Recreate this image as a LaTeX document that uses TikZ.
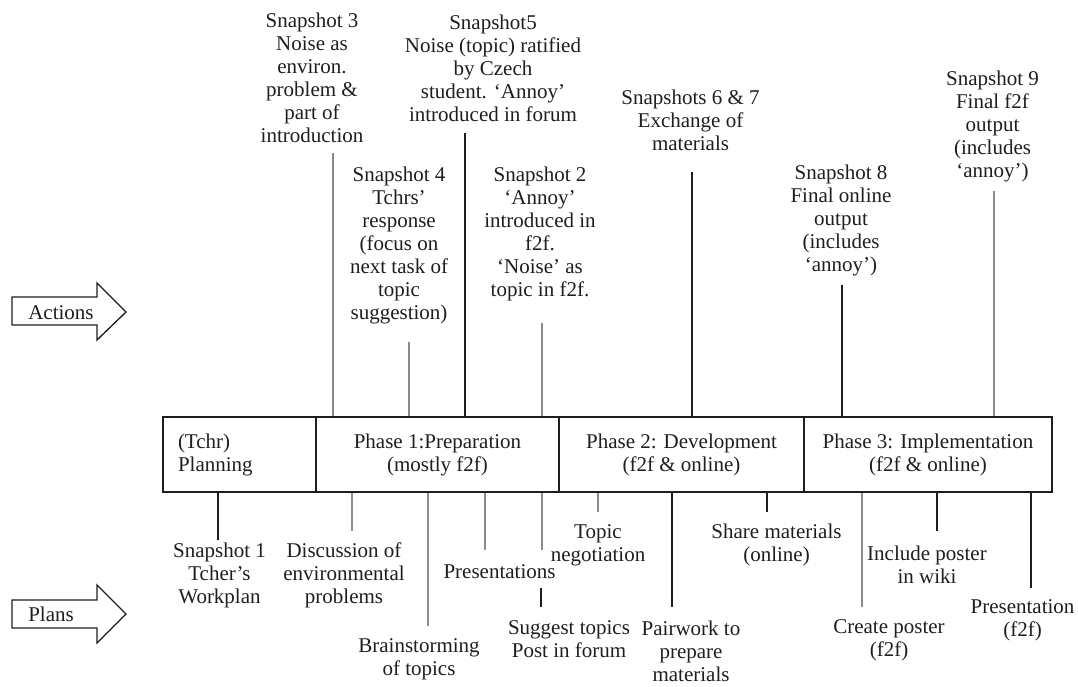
\documentclass[tikz,border=0pt]{standalone}
\usepackage{fontspec}
\setmainfont{Liberation Serif}
\definecolor{ink}{HTML}{1E1E1E}
\definecolor{lgray}{HTML}{8C8C8C}
\begin{document}
\begin{tikzpicture}[x=0.75pt,y=-0.75pt,
  every node/.style={font=\fontsize{15.75}{17.25}\selectfont, inner sep=0pt, text=ink},
  lbl/.style={align=center},
  phase/.style={draw=ink, line width=1.1pt, minimum height=56.25pt, inner sep=0pt, align=center},
  blk/.style={draw=ink, line width=1pt},
  gry/.style={draw=lgray, line width=1.5pt},
  bigarrow/.style={draw=ink, line width=1pt, line join=miter},
]
\useasboundingbox (0,0) rectangle (1078,686);

% side arrows
\draw[bigarrow] (12,297) -- (97,297) -- (97,283) -- (126,312) -- (97,340) -- (97,325) -- (12,325) -- cycle;
\node[anchor=west] (actions) at (28,313) {Actions};
\draw[bigarrow] (12,600) -- (97,600) -- (97,585) -- (126,614) -- (97,643) -- (97,628) -- (12,628) -- cycle;
\node[anchor=west] (plans) at (28,614) {Plans};

% phase boxes
\node[phase, align=left, text width=92.25pt, inner xsep=11.25pt] (plan) at (239.5,454.5) {(Tchr)\\Planning};
\node[phase, minimum width=182.25pt] (ph1) at (437.5,454.5) {Phase 1:Preparation\\(mostly f2f)};
\node[phase, minimum width=183.75pt] (ph2) at (681.5,454.5) {Phase 2: Development\\(f2f \& online)};
\node[phase, minimum width=186pt] (ph3) at (928,454.5) {Phase 3: Implementation\\(f2f \& online)};

% top labels (actions)
\node[lbl] (s3) at (312,77.5) {Snapshot 3\\Noise as\\environ.\\problem \&\\part of\\introduction};
\node[lbl] (s5) at (493,68.5) {Snapshot5\\Noise (topic) ratified\\by Czech\\student. ‘Annoy’\\introduced in forum};
\node[lbl] (s4) at (399,245) {Snapshot 4\\Tchrs’\\response\\(focus on\\next task of\\topic\\suggestion)};
\node[lbl] (s2) at (540,233.5) {Snapshot 2\\‘Annoy’\\introduced in\\f2f.\\‘Noise’ as\\topic in f2f.};
\node[lbl] (s67) at (690.5,120) {Snapshots 6 \& 7\\Exchange of\\materials};
\node[lbl] (s8) at (841,220) {Snapshot 8\\Final online\\output\\(includes\\‘annoy’)};
\node[lbl] (s9) at (992.5,126) {Snapshot 9\\Final f2f\\output\\(includes\\‘annoy’)};

% bottom labels (plans)
\node[lbl] (p1) at (219.5,575) {Snapshot 1\\Tcher’s\\Workplan};
\node[lbl] (disc) at (344,575) {Discussion of\\environmental\\problems};
\node[lbl] (brain) at (419,659) {Brainstorming\\of topics};
\node[lbl] (pres) at (499.5,572) {Presentations};
\node[lbl] (sugg) at (569,639.5) {Suggest topics\\Post in forum};
\node[lbl] (topic) at (598,545) {Topic\\negotiation};
\node[lbl] (pair) at (691,651.5) {Pairwork to\\prepare\\materials};
\node[lbl] (share) at (776.5,545) {Share materials\\(online)};
\node[lbl] (incl) at (927,564.5) {Include poster\\in wiki};
\node[lbl] (create) at (889,640.5) {Create poster\\(f2f)};
\node[lbl] (presf) at (1022.5,620.5) {Presentation\\(f2f)};

% free ends of connectors
\coordinate (s3e) at (333,153);
\coordinate (s4e) at (409,342);
\coordinate (s5e) at (465,133);
\coordinate (s2e) at (542,323);
\coordinate (s67e) at (692,172);
\coordinate (s8e) at (842,285);
\coordinate (s9e) at (994,191);
\coordinate (p1e) at (218,540);
\coordinate (disce) at (352,531);
\coordinate (braine) at (428,626);
\coordinate (prese) at (485,550);
\coordinate (sugge) at (542,550);
\coordinate (sugga) at (541,588);
\coordinate (suggb) at (541,607);
\coordinate (topice) at (598,512);
\coordinate (paire) at (672,607);
\coordinate (sharee) at (767,512);
\coordinate (createe) at (862,607);
\coordinate (incle) at (937,531);
\coordinate (presfe) at (1031,588);

% top connectors
\draw[gry] (s3e) -- (s3e |- ph1.north);
\draw[gry] (s4e) -- (s4e |- ph1.north);
\draw[blk] (s5e) -- (s5e |- ph1.north);
\draw[gry] (s2e) -- (s2e |- ph1.north);
\draw[blk] (s67e) -- (s67e |- ph2.north);
\draw[blk] (s8e) -- (s8e |- ph3.north);
\draw[gry] (s9e) -- (s9e |- ph3.north);

% bottom connectors
\draw[blk] (p1e |- plan.south) -- (p1e);
\draw[gry] (disce |- ph1.south) -- (disce);
\draw[gry] (braine |- ph1.south) -- (braine);
\draw[gry] (prese |- ph1.south) -- (prese);
\draw[gry] (sugge |- ph1.south) -- (sugge);
\draw[blk] (sugga) -- (suggb);
\draw[gry] (topice |- ph2.south) -- (topice);
\draw[blk] (paire |- ph2.south) -- (paire);
\draw[blk] (sharee |- ph2.south) -- (sharee);
\draw[gry] (createe |- ph3.south) -- (createe);
\draw[blk] (incle |- ph3.south) -- (incle);
\draw[blk] (presfe |- ph3.south) -- (presfe);
\end{tikzpicture}
\end{document}
